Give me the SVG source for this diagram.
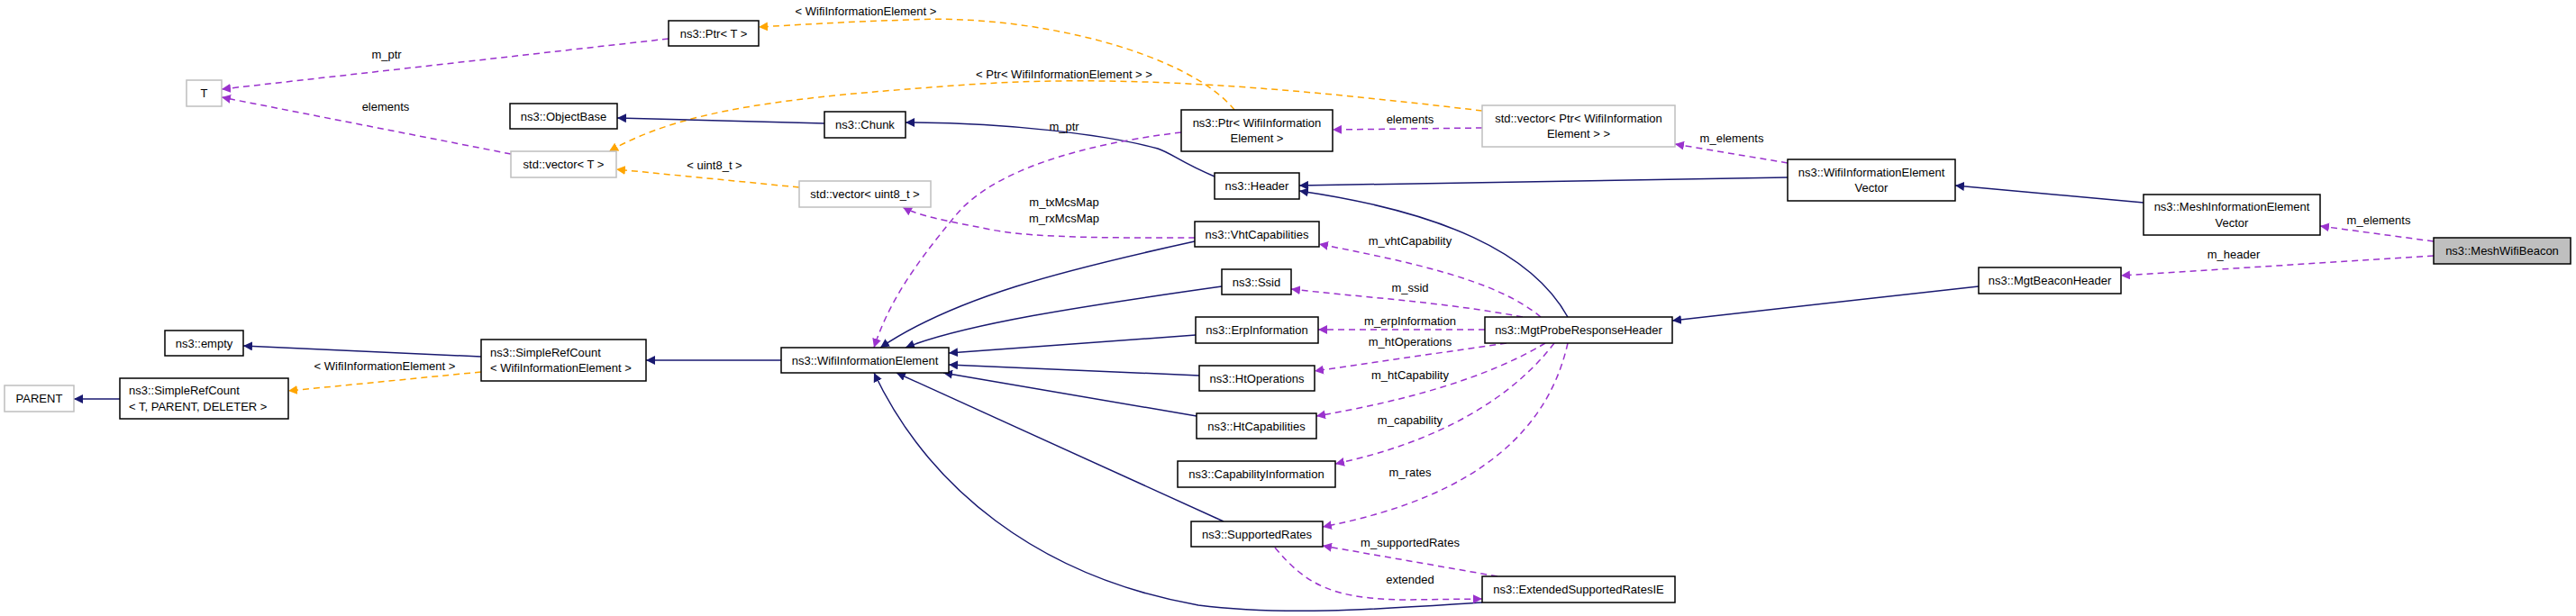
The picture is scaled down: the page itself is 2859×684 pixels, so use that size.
<svg xmlns="http://www.w3.org/2000/svg" width="2859" height="684" viewBox="0 0 2859 684">
<style>
text{font-family:"Liberation Sans",Arial,sans-serif;font-size:13px;fill:#000}
.n rect{fill:#fff;stroke:#000;stroke-width:1.5}
.g rect{fill:#fff;stroke:#bfbfbf;stroke-width:1.5}
.c{text-anchor:middle}
.e path{fill:none;stroke-width:1.5}
.b{stroke:#191970}
.p{stroke:#9a32cd;stroke-dasharray:7,5}
.o{stroke:#ffa500;stroke-dasharray:7,5}
.lbl{text-anchor:middle}
</style>
<defs>
<marker id="mb" viewBox="0 0 10 10" refX="10" refY="5" markerWidth="10" markerHeight="10" markerUnits="userSpaceOnUse" orient="auto"><path d="M0,0L10,5L0,10z" fill="#191970"/></marker>
<marker id="mp" viewBox="0 0 10 10" refX="10" refY="5" markerWidth="10" markerHeight="10" markerUnits="userSpaceOnUse" orient="auto"><path d="M0,0L10,5L0,10z" fill="#9a32cd"/></marker>
<marker id="mo" viewBox="0 0 10 10" refX="10" refY="5" markerWidth="10" markerHeight="10" markerUnits="userSpaceOnUse" orient="auto"><path d="M0,0L10,5L0,10z" fill="#ffa500"/></marker>
</defs>
<rect width="2859" height="684" fill="#fff"/>
<g id="edges" class="e">
<path class="p" marker-end="url(#mp)" d="M742,43 L246,99"/>
<path class="p" marker-end="url(#mp)" d="M567,171 L246,108"/>
<path class="o" marker-end="url(#mo)" d="M1370,122 C1320,60 1150,15 1010,22 C940,24 880,28 842,30"/>
<path class="o" marker-end="url(#mo)" d="M1645,123 C1450,100 1250,80 1060,95 C880,108 760,120 676,168"/>
<path class="o" marker-end="url(#mo)" d="M887,208 L684,188"/>
<path class="b" marker-end="url(#mb)" d="M915,137 L685,131"/>
<path class="b" marker-end="url(#mb)" d="M1348,196 C1310,180 1300,170 1285,165 C1230,150 1120,136 1005,136"/>
<path class="p" marker-end="url(#mp)" d="M1645,142 L1479,144"/>
<path class="p" marker-end="url(#mp)" d="M1311,147 C1200,160 1100,190 1060,240 C1010,300 985,340 970,386"/>
<path class="p" marker-end="url(#mp)" d="M1326,264 C1250,264 1150,265 1100,255 C1050,245 1020,240 1002,230"/>
<path class="b" marker-end="url(#mb)" d="M1326,268 C1180,300 1060,330 977,386"/>
<path class="b" marker-end="url(#mb)" d="M1356,318 C1200,340 1070,360 1005,386"/>
<path class="b" marker-end="url(#mb)" d="M1327,372 L1053,392"/>
<path class="b" marker-end="url(#mb)" d="M1331,417 L1053,405"/>
<path class="b" marker-end="url(#mb)" d="M1328,462 L1047,414"/>
<path class="b" marker-end="url(#mb)" d="M1358,579 L995,414"/>
<path class="b" marker-end="url(#mb)" d="M1645,669 C1550,675 1430,685 1330,672 C1150,640 1030,540 970,414"/>
<path class="p" marker-end="url(#mp)" d="M1662,640 L1468,606"/>
<path class="p" marker-end="url(#mp)" d="M1415,608 C1450,650 1480,665 1560,666 L1645,665"/>
<path class="b" marker-end="url(#mb)" d="M867,400 L717,400"/>
<path class="b" marker-end="url(#mb)" d="M534,396 L270,384"/>
<path class="o" marker-end="url(#mo)" d="M534,413 L320,434"/>
<path class="b" marker-end="url(#mb)" d="M133,443 L82,443"/>
<path class="b" marker-end="url(#mb)" d="M1740,352 C1700,280 1600,235 1442,212"/>
<path class="b" marker-end="url(#mb)" d="M1984,197 L1442,206"/>
<path class="b" marker-end="url(#mb)" d="M2379,225 L2170,206"/>
<path class="b" marker-end="url(#mb)" d="M2196,318 L1856,356"/>
<path class="p" marker-end="url(#mp)" d="M1984,181 L1859,160"/>
<path class="p" marker-end="url(#mp)" d="M2701,268 L2575,251"/>
<path class="p" marker-end="url(#mp)" d="M2701,284 L2354,306"/>
<path class="p" marker-end="url(#mp)" d="M1710,352 C1660,310 1560,290 1464,271"/>
<path class="p" marker-end="url(#mp)" d="M1690,352 C1600,335 1510,330 1433,321"/>
<path class="p" marker-end="url(#mp)" d="M1648,366 L1463,366"/>
<path class="p" marker-end="url(#mp)" d="M1672,381 L1459,412"/>
<path class="p" marker-end="url(#mp)" d="M1715,381 C1650,420 1560,445 1461,462"/>
<path class="p" marker-end="url(#mp)" d="M1725,381 C1680,440 1600,490 1482,515"/>
<path class="p" marker-end="url(#mp)" d="M1740,381 C1720,470 1650,550 1468,585"/>
</g>
<g id="labels">
<text class="lbl" x="429" y="65">m_ptr</text>
<text class="lbl" x="428" y="123">elements</text>
<text class="lbl" x="793" y="188">&lt; uint8_t &gt;</text>
<text class="lbl" x="961" y="17">&lt; WifiInformationElement &gt;</text>
<text class="lbl" x="1181" y="87">&lt; Ptr&lt; WifiInformationElement &gt; &gt;</text>
<text class="lbl" x="1565" y="137">elements</text>
<text class="lbl" x="1181" y="145">m_ptr</text>
<text class="lbl" x="1181" y="229">m_txMcsMap</text>
<text class="lbl" x="1181" y="247">m_rxMcsMap</text>
<text class="lbl" x="1565" y="272">m_vhtCapability</text>
<text class="lbl" x="1565" y="324">m_ssid</text>
<text class="lbl" x="1565" y="361">m_erpInformation</text>
<text class="lbl" x="1565" y="384">m_htOperations</text>
<text class="lbl" x="1565" y="421">m_htCapability</text>
<text class="lbl" x="1565" y="471">m_capability</text>
<text class="lbl" x="1565" y="529">m_rates</text>
<text class="lbl" x="1565" y="607">m_supportedRates</text>
<text class="lbl" x="1565" y="648">extended</text>
<text class="lbl" x="427" y="411">&lt; WifiInformationElement &gt;</text>
<text class="lbl" x="1922" y="158">m_elements</text>
<text class="lbl" x="2640" y="249">m_elements</text>
<text class="lbl" x="2479" y="287">m_header</text>
</g>
<g id="T" class="g"><rect x="207" y="89" width="39" height="29"/><text class="c" x="226.5" y="108">T</text></g>
<g id="PtrT" class="n"><rect x="742" y="23" width="100" height="28"/><text class="c" x="792" y="42">ns3::Ptr&lt; T &gt;</text></g>
<g id="ObjectBase" class="n"><rect x="566" y="115" width="119" height="28"/><text class="c" x="625.5" y="134">ns3::ObjectBase</text></g>
<g id="vectorT" class="g"><rect x="567" y="168" width="117" height="29"/><text class="c" x="625.5" y="187">std::vector&lt; T &gt;</text></g>
<g id="empty" class="n"><rect x="183" y="367" width="87" height="28"/><text class="c" x="226.5" y="386">ns3::empty</text></g>
<g id="SRCWIE" class="n"><rect x="534" y="377" width="183" height="46"/><text x="544" y="396">ns3::SimpleRefCount</text><text x="544" y="413">&lt; WifiInformationElement &gt;</text></g>
<g id="PARENT" class="g"><rect x="5" y="428" width="77" height="29"/><text class="c" x="43.5" y="447">PARENT</text></g>
<g id="SRCTPD" class="n"><rect x="133" y="420" width="187" height="45"/><text x="143" y="438">ns3::SimpleRefCount</text><text x="143" y="456">&lt; T, PARENT, DELETER &gt;</text></g>
<g id="WIE" class="n"><rect x="867" y="386" width="186" height="28"/><text class="c" x="960" y="405">ns3::WifiInformationElement</text></g>
<g id="Chunk" class="n"><rect x="915" y="124" width="90" height="29"/><text class="c" x="960" y="143">ns3::Chunk</text></g>
<g id="PtrWIE" class="n"><rect x="1311" y="122" width="168" height="46"/><text class="c" x="1395" y="141">ns3::Ptr&lt; WifiInformation</text><text class="c" x="1395" y="158">Element &gt;</text></g>
<g id="vectorPtrWIE" class="g"><rect x="1645" y="117" width="214" height="46"/><text class="c" x="1752" y="136">std::vector&lt; Ptr&lt; WifiInformation</text><text class="c" x="1752" y="153">Element &gt; &gt;</text></g>
<g id="Header" class="n"><rect x="1348" y="192" width="94" height="29"/><text class="c" x="1395" y="211">ns3::Header</text></g>
<g id="vectorU8" class="g"><rect x="887" y="201" width="146" height="29"/><text class="c" x="960" y="220">std::vector&lt; uint8_t &gt;</text></g>
<g id="Vht" class="n"><rect x="1326" y="246" width="138" height="28"/><text class="c" x="1395" y="265">ns3::VhtCapabilities</text></g>
<g id="Ssid" class="n"><rect x="1356" y="299" width="77" height="28"/><text class="c" x="1394.5" y="318">ns3::Ssid</text></g>
<g id="Erp" class="n"><rect x="1327" y="352" width="136" height="29"/><text class="c" x="1395" y="371">ns3::ErpInformation</text></g>
<g id="MgtProbe" class="n"><rect x="1648" y="352" width="208" height="29"/><text class="c" x="1752" y="371">ns3::MgtProbeResponseHeader</text></g>
<g id="HtOps" class="n"><rect x="1331" y="406" width="128" height="28"/><text class="c" x="1395" y="425">ns3::HtOperations</text></g>
<g id="HtCaps" class="n"><rect x="1328" y="459" width="133" height="28"/><text class="c" x="1394.5" y="478">ns3::HtCapabilities</text></g>
<g id="CapInfo" class="n"><rect x="1307" y="512" width="175" height="29"/><text class="c" x="1394.5" y="531">ns3::CapabilityInformation</text></g>
<g id="SupRates" class="n"><rect x="1322" y="579" width="146" height="28"/><text class="c" x="1395" y="598">ns3::SupportedRates</text></g>
<g id="ExtSR" class="n"><rect x="1645" y="640" width="214" height="29"/><text class="c" x="1752" y="659">ns3::ExtendedSupportedRatesIE</text></g>
<g id="WIEVector" class="n"><rect x="1984" y="177" width="186" height="46"/><text class="c" x="2077" y="196">ns3::WifiInformationElement</text><text class="c" x="2077" y="213">Vector</text></g>
<g id="MeshIEVector" class="n"><rect x="2379" y="216" width="196" height="45"/><text class="c" x="2477" y="234">ns3::MeshInformationElement</text><text class="c" x="2477" y="252">Vector</text></g>
<g id="MeshWifiBeacon"><rect x="2701" y="264" width="152" height="29" fill="#bfbfbf" stroke="#000" stroke-width="1.5"/><text class="c" x="2777" y="283">ns3::MeshWifiBeacon</text></g>
<g id="MgtBeacon" class="n"><rect x="2196" y="297" width="158" height="29"/><text class="c" x="2275" y="316">ns3::MgtBeaconHeader</text></g>
</svg>
